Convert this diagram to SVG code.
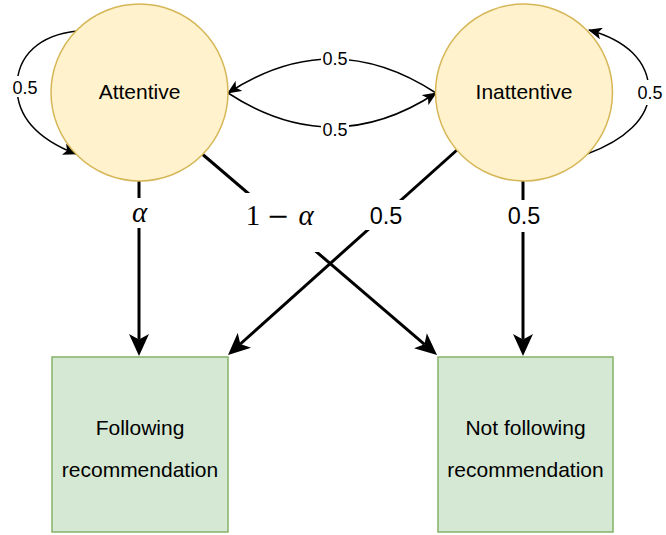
<svg xmlns="http://www.w3.org/2000/svg" width="666" height="535" viewBox="0 0 666 535">
<defs>
<style>
.state{fill:#fff2cc;stroke:#d6b656;stroke-width:1.5}
.out{fill:#d5e8d4;stroke:#82b366;stroke-width:1.5}
.nt{font-family:"Liberation Sans",Arial,sans-serif;font-size:21px;fill:#000;text-anchor:middle}
.thick{fill:none;stroke:#000;stroke-width:3}
.thin{fill:none;stroke:#000;stroke-width:1.5}
.bg{fill:#fff;stroke:none}
.l18{font-family:"Liberation Sans",Arial,sans-serif;font-size:18px;text-anchor:middle;fill:#000}
.l24{font-family:"Liberation Sans",Arial,sans-serif;font-size:23.5px;text-anchor:middle;fill:#000}
.math{font-family:"Liberation Serif","Times New Roman",serif;font-size:29px;text-anchor:middle;fill:#000}
</style>
<marker id="ah" markerUnits="userSpaceOnUse" markerWidth="22" markerHeight="22" viewBox="0 0 22 22" refX="5.5" refY="11" orient="auto">
<path d="M22 11 L0 1 L5.5 11 L0 21 Z" fill="#000"/>
</marker>
<marker id="as" markerUnits="userSpaceOnUse" markerWidth="14" markerHeight="12" viewBox="0 0 14 12" refX="13" refY="6" orient="auto">
<path d="M14 6 L0 0 L3.5 6 L0 12 Z" fill="#000"/>
</marker>
</defs>
<rect width="666" height="535" fill="#fff"/>

<g id="connectors">
<path class="thin" d="M77 31 C40 35 17 55 17 87 C17 118 40 140 76 154" marker-end="url(#as)"/>
<path class="thin" d="M587 154 C625 140 649 118 649 92 C649 60 625 40 589 30" marker-end="url(#as)"/>
<path class="thin" d="M436 93 Q332 25 228 93" marker-end="url(#as)"/>
<path class="thin" d="M228 93 Q332 161 436 93" marker-end="url(#as)"/>
<path class="thick" d="M139 181 L139 339.5" marker-end="url(#ah)"/>
<path class="thick" d="M201 153 L424.5 344.3" marker-end="url(#ah)"/>
<path class="thick" d="M457 150 L240.3 344" marker-end="url(#ah)"/>
<path class="thick" d="M523 181 L523 339.5" marker-end="url(#ah)"/>
<rect class="bg" x="10" y="76" width="30" height="21"/>
<rect class="bg" x="636" y="80" width="29" height="25"/>
<rect class="bg" x="321" y="49" width="28" height="19"/>
<rect class="bg" x="321" y="119" width="28" height="19"/>
<rect class="bg" x="128" y="198" width="22" height="30"/>
<rect class="bg" x="240" y="193" width="82" height="59"/>
<rect class="bg" x="364" y="200" width="42" height="30"/>
<rect class="bg" x="505" y="200" width="38" height="32"/>
<text class="l18" x="25" y="94">0.5</text>
<text class="l18" x="650" y="99">0.5</text>
<text class="l18" x="335" y="65">0.5</text>
<text class="l18" x="335" y="136">0.5</text>
<text class="math" x="139.5" y="222" font-style="italic">α</text>
<text class="math" x="253" y="225">1</text>
<text class="math" x="278" y="225" style="font-family:'DejaVu Serif',serif;font-size:27px">−</text>
<text class="math" x="306" y="225" font-style="italic">α</text>
<text class="l24" x="386" y="224">0.5</text>
<text class="l24" x="524" y="224">0.5</text>
</g>

<g id="attentive">
<circle class="state" cx="139.5" cy="92.5" r="88.5"/>
<text class="nt" x="139.5" y="99">Attentive</text>
</g>
<g id="inattentive">
<circle class="state" cx="524" cy="92.5" r="88.5"/>
<text class="nt" x="524" y="99">Inattentive</text>
</g>
<g id="following">
<rect class="out" x="52" y="357" width="176" height="175"/>
<text class="nt" x="140" y="435">Following</text>
<text class="nt" x="140" y="477">recommendation</text>
</g>
<g id="not-following">
<rect class="out" x="438" y="357" width="175" height="175"/>
<text class="nt" x="525.5" y="435">Not following</text>
<text class="nt" x="525.5" y="477">recommendation</text>
</g>
</svg>
